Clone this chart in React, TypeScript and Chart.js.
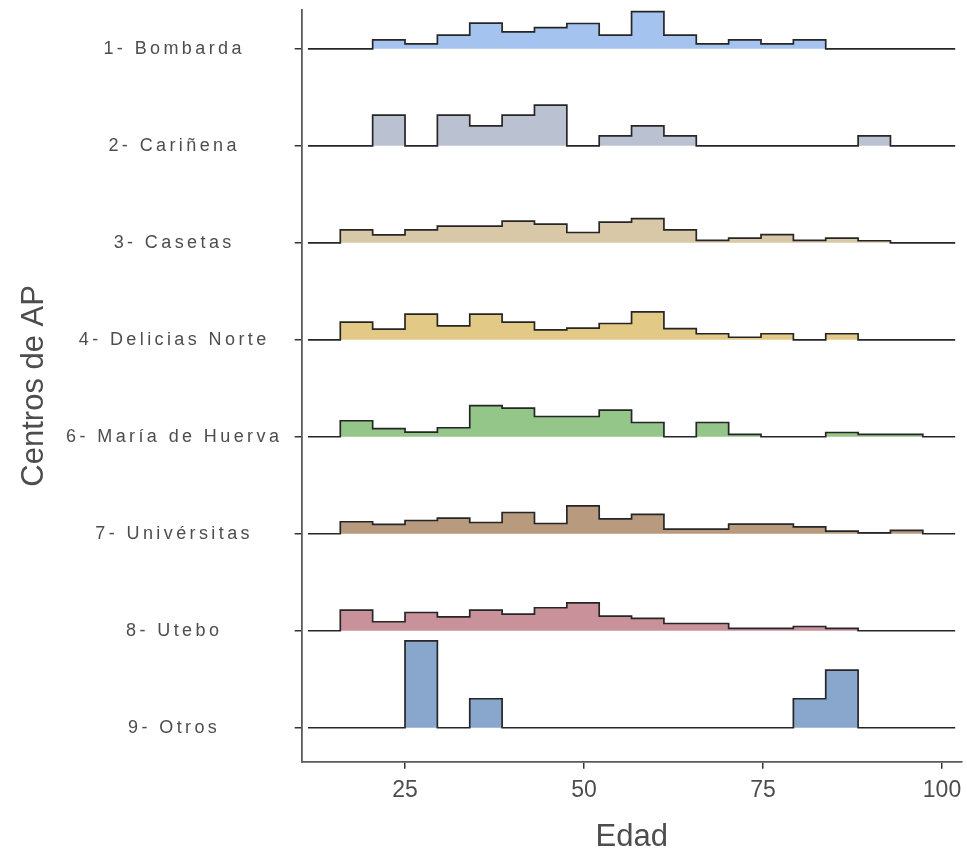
import { useEffect, useRef } from "react";
import { Chart, registerables } from "chart.js";

Chart.register(...registerables);

// Centros de AP (top to bottom)
const centros = [
  "1- Bombarda",
  "2- Cariñena",
  "3- Casetas",
  "4- Delicias Norte",
  "6- María de Huerva",
  "7- Univérsitas",
  "8- Utebo",
  "9- Otros",
];

// Histogram bin edges (Edad)
const binEdges = [
  11.44, 15.96, 20.48, 25.0, 29.52, 34.04, 38.56, 43.08, 47.6, 52.12, 56.64,
  61.16, 65.68, 70.2, 74.72, 79.24, 83.76, 88.28, 92.8, 97.32, 101.84,
];

// Ridge heights per bin (relative to the spacing between ridges)
const bombarda = [0, 0, 0.093, 0.051, 0.141, 0.265, 0.175, 0.219, 0.261, 0.141, 0.384, 0.141, 0.051, 0.093, 0.051, 0.093, 0, 0, 0, 0];
const carinena = [0, 0, 0.316, 0, 0.316, 0.206, 0.316, 0.419, 0, 0.103, 0.206, 0.103, 0, 0, 0, 0, 0, 0.103, 0, 0];
const casetas = [0, 0.134, 0.082, 0.134, 0.172, 0.172, 0.223, 0.193, 0.106, 0.213, 0.25, 0.134, 0.024, 0.048, 0.085, 0.024, 0.048, 0.021, 0, 0];
const deliciasNorte = [0, 0.182, 0.11, 0.265, 0.144, 0.265, 0.182, 0.103, 0.12, 0.168, 0.288, 0.116, 0.062, 0.026, 0.062, 0, 0.062, 0, 0, 0];
const mariaDeHuerva = [0, 0.165, 0.085, 0.048, 0.093, 0.322, 0.296, 0.209, 0.209, 0.275, 0.147, 0, 0.147, 0.024, 0, 0, 0.044, 0.024, 0.024, 0];
const universitas = [0, 0.124, 0.096, 0.137, 0.162, 0.116, 0.219, 0.106, 0.288, 0.154, 0.199, 0.048, 0.048, 0.1, 0.1, 0.072, 0.028, 0.01, 0.034, 0];
const utebo = [0, 0.213, 0.093, 0.188, 0.144, 0.213, 0.172, 0.237, 0.288, 0.151, 0.127, 0.075, 0.075, 0.024, 0.024, 0.044, 0.024, 0, 0, 0];
const otros = [0, 0, 0, 0.896, 0, 0.299, 0, 0, 0, 0, 0, 0, 0, 0, 0, 0.299, 0.594, 0, 0, 0];

const xTickValues = [25, 50, 75, 100];

const fillColors = [
  "#A4C3EF",
  "#BAC2D2",
  "#D9C8A7",
  "#E2C986",
  "#94C589",
  "#B89A7E",
  "#C9929B",
  "#89A6CC",
];

const FONT = "'Liberation Sans', Arial, Helvetica, sans-serif";

export default function App() {
  const ref = useRef<HTMLCanvasElement | null>(null);

  useEffect(() => {
    const canvas = ref.current;
    if (!canvas) return;
    const series = [bombarda, carinena, casetas, deliciasNorte, mariaDeHuerva, universitas, utebo, otros];
    const n = centros.length;

    const datasets = series.map((h, k) => {
      const base = n - 1 - k;
      return {
        label: centros[k],
        data: binEdges.map((x, i) => ({ x, y: base + (i < h.length ? h[i] : 0) })),
        stepped: true as const,
        fill: { value: base },
        backgroundColor: fillColors[k],
        borderColor: "#262626",
        borderWidth: 1.7,
        pointRadius: 0,
        pointHoverRadius: 0,
        order: n - k,
      };
    });

    const spacedLabels = {
      id: "spacedLabels",
      afterLayout(chart: any) {
        const s = chart.scales.y;
        if (s && !s.__patched) {
          const orig = s.drawLabels.bind(s);
          s.drawLabels = (area: any) => {
            const c = chart.ctx as any;
            c.save();
            c.letterSpacing = "3.4px";
            orig(area);
            c.restore();
          };
          s.__patched = true;
        }
      },
    };

    const chart = new Chart(canvas, {
      type: "line",
      data: { datasets: datasets as any },
      plugins: [spacedLabels],
      options: {
        animation: false,
        responsive: false,
        devicePixelRatio: 1,
        events: [],
        layout: { padding: { top: 10, right: 5.3, left: 0, bottom: 0 } },
        plugins: { legend: { display: false }, tooltip: { enabled: false } },
        scales: {
          x: {
            type: "linear",
            min: 10.57,
            max: 102.75,
            afterBuildTicks: (s: any) => {
              s.ticks = xTickValues.map((v) => ({ value: v }));
            },
            afterFit: (s: any) => {
              s.height = 91.3;
              s.paddingLeft = 0;
              s.paddingRight = 0;
            },
            grid: { drawOnChartArea: false, drawTicks: true, tickLength: 7, color: "#333333", lineWidth: 1.5 },
            border: { display: true, color: "#5a5a5a", width: 1.8 },
            ticks: {
              color: "#4d4d4d",
              font: { family: FONT, size: 23 },
              padding: 8,
              maxRotation: 0,
              callback: (v: any) => String(v),
            },
            title: {
              display: true,
              text: "Edad",
              color: "#4d4d4d",
              font: { family: FONT, size: 31, lineHeight: 1 },
              padding: { top: 0, bottom: 0 },
            },
          },
          y: {
            type: "linear",
            min: -0.35,
            max: 7.4,
            afterBuildTicks: (s: any) => {
              s.ticks = centros.map((_, k) => ({ value: n - 1 - k }));
            },
            afterFit: (s: any) => {
              s.width = 301.7;
              s.paddingTop = 0;
              s.paddingBottom = 0;
            },
            grid: { drawOnChartArea: false, drawTicks: true, tickLength: 7, color: "#333333", lineWidth: 1.5 },
            border: { display: true, color: "#5a5a5a", width: 1.8 },
            ticks: {
              color: "#4d4d4d",
              font: { family: FONT, size: 18 },
              crossAlign: "center",
              padding: 43,
              callback: (v: any) => {
                const idx = n - 1 - Math.round(Number(v));
                return centros[idx] ?? "";
              },
            },
            title: {
              display: true,
              text: "Centros de AP",
              color: "#4d4d4d",
              font: { family: FONT, size: 31, lineHeight: 1 },
              padding: { top: 19, bottom: 0 },
            },
          },
        },
      },
    });

    return () => chart.destroy();
  }, []);

  return (
    <div style={{ position: "fixed", left: 0, top: 0, width: 967, height: 853, background: "#ffffff" }}>
      <canvas ref={ref} width={967} height={853} style={{ display: "block", width: 967, height: 853 }} />
    </div>
  );
}
